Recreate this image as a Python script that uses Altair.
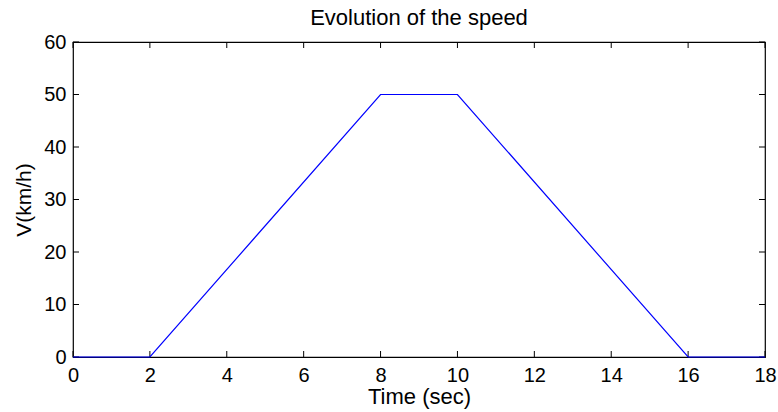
import altair as alt
import pandas as pd

# Speed profile: rest, acceleration, cruise, braking, rest
time_s = [0, 2, 8, 10, 16, 18]
speed_kmh = [0, 0, 50, 50, 0, 0]

# Tick positions for both axes
x_ticks = [0, 2, 4, 6, 8, 10, 12, 14, 16, 18]
y_ticks = [0, 10, 20, 30, 40, 50, 60]

W, H = 692, 315
TICK = 6
FONT = "Liberation Sans"

df = pd.DataFrame({"t": time_s, "v": speed_kmh})
xt = pd.DataFrame({"t": x_ticks})
yt = pd.DataFrame({"v": y_ticks})

x_scale = alt.Scale(domain=[0, 18], nice=False, zero=False)
y_scale = alt.Scale(domain=[0, 60], nice=False, zero=False)

x_axis = alt.Axis(values=x_ticks, ticks=False, grid=False, domain=False,
                  labelFontSize=20, labelColor="black", labelFont=FONT,
                  labelPadding=8, labelFlush=False,
                  title="Time (sec)", titleFontSize=22, titleFont=FONT,
                  titleFontWeight="normal", titleColor="black", titlePadding=1)
y_axis = alt.Axis(values=y_ticks, ticks=False, grid=False, domain=False,
                  labelFontSize=20, labelColor="black", labelFont=FONT,
                  labelPadding=7, labelFlush=False,
                  title="V(km/h)", titleFontSize=21, titleFont=FONT,
                  titleFontWeight="normal", titleColor="black", titlePadding=9)

line = alt.Chart(df).mark_line(color="#0000ff", strokeWidth=1.2).encode(
    x=alt.X("t:Q", scale=x_scale, axis=x_axis),
    y=alt.Y("v:Q", scale=y_scale, axis=y_axis),
)

# Inward ticks on all four sides of the box
tick_style = dict(color="black", strokeWidth=1)
bottom_ticks = alt.Chart(xt).mark_rule(**tick_style).encode(
    x=alt.X("t:Q", scale=x_scale), y=alt.value(H), y2=alt.value(H - TICK))
top_ticks = alt.Chart(xt).mark_rule(**tick_style).encode(
    x=alt.X("t:Q", scale=x_scale), y=alt.value(0), y2=alt.value(TICK))
left_ticks = alt.Chart(yt).mark_rule(**tick_style).encode(
    y=alt.Y("v:Q", scale=y_scale), x=alt.value(0), x2=alt.value(TICK))
right_ticks = alt.Chart(yt).mark_rule(**tick_style).encode(
    y=alt.Y("v:Q", scale=y_scale), x=alt.value(W), x2=alt.value(W - TICK))

chart = alt.layer(
    bottom_ticks, top_ticks, left_ticks, right_ticks, line
).properties(
    width=W, height=H,
    autosize=alt.AutoSizeParams(type="none"),
    padding={"left": 73, "top": 42, "right": 13, "bottom": 55},
    title=alt.TitleParams("Evolution of the speed", fontSize=22, font=FONT,
                          fontWeight="normal", color="black",
                          anchor="middle", offset=2),
    background="white",
).configure_view(
    stroke="black", strokeWidth=1.2
)

chart.save("out.html", embed_options={"renderer": "svg", "actions": False})
